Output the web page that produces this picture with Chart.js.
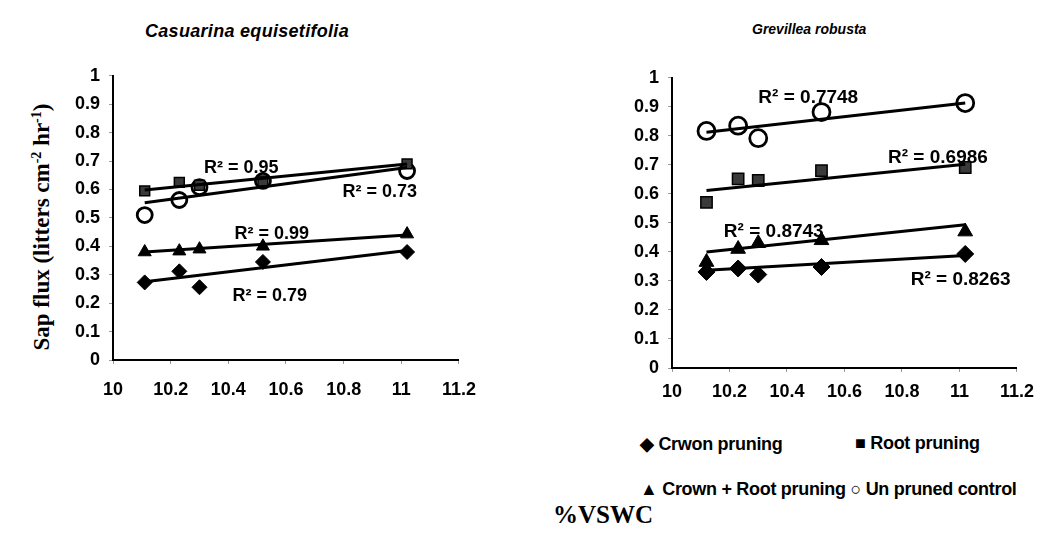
<!DOCTYPE html>
<html><head><meta charset="utf-8">
<script src="https://cdn.jsdelivr.net/npm/chart.js@4"></script>
<style>
html,body{margin:0;padding:0;background:#fff;width:1045px;height:549px;overflow:hidden;position:relative;font-family:"Liberation Sans",Arial,sans-serif;}
canvas{position:absolute;}
.t{position:absolute;white-space:nowrap;color:#000;line-height:1;}
.lg{font:bold 18px 'Liberation Sans';letter-spacing:-0.3px}
</style></head><body>
<div class="t" style="left:145px;top:21px;font:italic bold 18px 'Liberation Sans';letter-spacing:0.3px">Casuarina equisetifolia</div>
<div class="t" style="left:752px;top:21px;font:italic bold 14px 'Liberation Sans';letter-spacing:0px">Grevillea robusta</div>
<div class="t" style="left:42px;top:227px;transform:translate(-50%,-50%) rotate(-90deg);font:bold 23px 'Liberation Serif'">Sap flux (litters cm<sup style="font-size:14px">-2</sup> hr<sup style="font-size:14px">-1</sup>)</div>
<div class="t" style="left:603px;top:515px;transform:translate(-50%,-50%);font:bold 25px 'Liberation Serif'">%VSWC</div>
<div class="t lg" style="left:640px;top:433px">◆ Crwon pruning</div>
<div class="t lg" style="left:855px;top:433px">■ Root pruning</div>
<div class="t lg" style="left:640px;top:479px">▲ Crown + Root pruning ○ Un pruned control</div>
<canvas id="c1" width="428" height="349" style="left:63px;top:56px"></canvas>
<canvas id="c2" width="421" height="355" style="left:622px;top:58px"></canvas>
<script>
// ---- data ----
const xTickValues = [10, 10.2, 10.4, 10.6, 10.8, 11, 11.2];
const xTickLabels = ['10', '10.2', '10.4', '10.6', '10.8', '11', '11.2'];
const yTickValues = [0, 0.1, 0.2, 0.3, 0.4, 0.5, 0.6, 0.7, 0.8, 0.9, 1];
const yTickLabels = ['0', '0.1', '0.2', '0.3', '0.4', '0.5', '0.6', '0.7', '0.8', '0.9', '1'];
const seriesNames = ['Crwon pruning', 'Root pruning', 'Crown + Root pruning', 'Un pruned control'];

// Casuarina equisetifolia
const casX = [10.11, 10.23, 10.3, 10.52, 11.02];
const casCrown = [0.273, 0.312, 0.256, 0.345, 0.38];
const casRoot = [0.595, 0.625, 0.615, 0.63, 0.69];
const casCrownRoot = [0.38, 0.383, 0.39, 0.40, 0.443];
const casControl = [0.51, 0.563, 0.608, 0.63, 0.665];
const casTrendStart = [0.275, 0.598, 0.38, 0.553];
const casTrendEnd = [0.385, 0.69, 0.44, 0.677];
const casR2 = ['R² = 0.79', 'R² = 0.95', 'R² = 0.99', 'R² = 0.73'];
const casR2X = [10.544, 10.445, 10.551, 10.925];
const casR2Y = [0.226, 0.675, 0.442, 0.592];

// Grevillea robusta
const grvX = [10.12, 10.23, 10.3, 10.52, 11.02];
const grvCrown = [0.331, 0.343, 0.322, 0.348, 0.393];
const grvRoot = [0.571, 0.652, 0.646, 0.68, 0.691];
const grvCrownRoot = [0.365, 0.41, 0.43, 0.44, 0.47];
const grvControl = [0.817, 0.835, 0.792, 0.882, 0.913];
const grvTrendStart = [0.337, 0.612, 0.40, 0.812];
const grvTrendEnd = [0.388, 0.702, 0.494, 0.913];
const grvR2 = ['R² = 0.8263', 'R² = 0.6986', 'R² = 0.8743', 'R² = 0.7748'];
const grvR2X = [11.004, 10.925, 10.354, 10.474];
const grvR2Y = [0.305, 0.725, 0.47, 0.93];

// ---- drawing ----
const r2Plugin = {
  id: 'r2labels',
  afterDatasetsDraw(chart, args, opts) {
    const ctx = chart.ctx, xs = chart.scales.x, ys = chart.scales.y;
    ctx.save();
    ctx.font = opts.font;
    ctx.fillStyle = '#000';
    ctx.textAlign = 'center';
    ctx.textBaseline = 'middle';
    opts.texts.forEach((t, i) => ctx.fillText(t, xs.getPixelForValue(opts.xs[i]), ys.getPixelForValue(opts.ys[i])));
    ctx.restore();
  }
};

const markerStyles = [
  {pointStyle: 'rectRot', pointRadius: 7.5, pointBackgroundColor: '#000', pointBorderColor: '#000', pointBorderWidth: 1},
  {pointStyle: 'rect', pointRadius: 7, pointBackgroundColor: '#3a3a3a', pointBorderColor: '#000', pointBorderWidth: 1.5},
  {pointStyle: 'triangle', pointRadius: 7.5, pointBackgroundColor: '#000', pointBorderColor: '#000', pointBorderWidth: 1},
  {pointStyle: 'circle', pointRadius: 7.5, pointBackgroundColor: 'rgba(0,0,0,0)', pointBorderColor: '#000', pointBorderWidth: 2.8}
];

function build(canvasId, xs, series, tStart, tEnd, r2, r2x, r2y, cfg) {
  const datasets = [];
  series.forEach((vals, k) => {
    datasets.push(Object.assign({
      label: seriesNames[k],
      data: xs.map((x, i) => ({x: x, y: vals[i]})),
      showLine: false,
      order: 2
    }, markerStyles[k], cfg.radius ? {pointRadius: markerStyles[k].pointRadius + cfg.radius} : {}));
  });
  series.forEach((vals, k) => {
    datasets.push({
      label: seriesNames[k] + ' trend',
      data: [{x: xs[0], y: tStart[k]}, {x: xs[xs.length - 1], y: tEnd[k]}],
      showLine: true,
      borderColor: '#000',
      borderWidth: 3,
      pointRadius: 0,
      order: 1
    });
  });
  const tickFont = {family: 'Liberation Sans', size: 18, weight: 'bold'};
  return new Chart(document.getElementById(canvasId), {
    type: 'scatter',
    data: {datasets: datasets},
    options: {
      responsive: false,
      animation: false,
      layout: {padding: {top: 12, right: cfg.padRight, left: 0, bottom: 0}},
      plugins: {
        legend: {display: false},
        tooltip: {enabled: false},
        r2labels: {texts: r2, xs: r2x, ys: r2y, font: cfg.r2Font}
      },
      scales: {
        x: {
          type: 'linear', min: 10, max: 11.2,
          afterBuildTicks: s => { s.ticks = xTickValues.map(v => ({value: v})); },
          afterFit: s => { s.height = 45; },
          ticks: {font: tickFont, color: '#000', padding: cfg.xPad, maxRotation: 0, autoSkip: false,
                  callback: (v, i) => xTickLabels[i]},
          grid: {drawOnChartArea: false, drawTicks: true, tickLength: 4, color: '#999'},
          border: {color: '#000', width: 2}
        },
        y: {
          type: 'linear', min: 0, max: 1,
          afterBuildTicks: s => { s.ticks = yTickValues.map(v => ({value: v})); },
          afterFit: s => { s.width = 50; },
          ticks: {font: tickFont, color: '#000', padding: 9, autoSkip: false,
                  callback: (v, i) => yTickLabels[i]},
          grid: {drawOnChartArea: false, drawTicks: true, tickLength: 4, color: '#999'},
          border: {color: '#000', width: 2}
        }
      }
    },
    plugins: [r2Plugin]
  });
}

build('c1', casX, [casCrown, casRoot, casCrownRoot, casControl], casTrendStart, casTrendEnd,
      casR2, casR2X, casR2Y, {padRight: 25, xPad: 15, r2Font: 'bold 18px "Liberation Sans"', radius: 0});
build('c2', grvX, [grvCrown, grvRoot, grvCrownRoot, grvControl], grvTrendStart, grvTrendEnd,
      grvR2, grvR2X, grvR2Y, {padRight: 22, xPad: 9, r2Font: 'bold 19px "Liberation Sans"', radius: 1});
</script>
</body></html>
